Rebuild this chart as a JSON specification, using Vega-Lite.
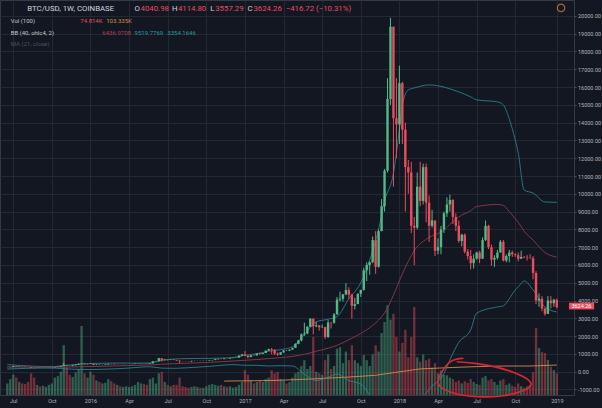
{
"$schema":"https://vega.github.io/schema/vega-lite/v6.json",
"width":574,"height":395,
"autosize":{"type":"none"},
"padding":{"left":0,"top":0,"right":28,"bottom":13},
"background":"#131722",
"config":{
 "view":{"stroke":"#363a45","fill":"#131722"},
 "axis":{"labelFont":"Roboto","labelFontSize":5.5,"labelColor":"#b2b5be","gridColor":"#242833","gridWidth":1,"domainColor":"#363a45","tickColor":"#4a4e59","labelOverlap":false,"labelBound":false},
 "text":{"font":"Roboto"}
},
"datasets":{
"candles":[
{"t":"2015-06-22","o":244,"h":251,"l":241,"c":249,"v":40},
{"t":"2015-06-29","o":249,"h":263,"l":248,"c":259,"v":55},
{"t":"2015-07-06","o":259,"h":312,"l":258,"c":306,"v":70},
{"t":"2015-07-13","o":306,"h":318,"l":272,"c":276,"v":60},
{"t":"2015-07-20","o":276,"h":293,"l":271,"c":292,"v":45},
{"t":"2015-07-27","o":292,"h":298,"l":278,"c":282,"v":40},
{"t":"2015-08-03","o":282,"h":285,"l":258,"c":264,"v":38},
{"t":"2015-08-10","o":264,"h":272,"l":258,"c":262,"v":45},
{"t":"2015-08-17","o":262,"h":263,"l":215,"c":232,"v":75},
{"t":"2015-08-24","o":232,"h":234,"l":196,"c":229,"v":60},
{"t":"2015-08-31","o":229,"h":243,"l":225,"c":240,"v":35},
{"t":"2015-09-07","o":240,"h":245,"l":226,"c":231,"v":30},
{"t":"2015-09-14","o":231,"h":234,"l":224,"c":232,"v":32},
{"t":"2015-09-21","o":232,"h":237,"l":226,"c":234,"v":28},
{"t":"2015-09-28","o":234,"h":242,"l":234,"c":240,"v":35},
{"t":"2015-10-05","o":240,"h":248,"l":238,"c":246,"v":40},
{"t":"2015-10-12","o":246,"h":270,"l":245,"c":265,"v":60},
{"t":"2015-10-19","o":265,"h":285,"l":262,"c":284,"v":65},
{"t":"2015-10-26","o":284,"h":335,"l":282,"c":325,"v":80},
{"t":"2015-11-02","o":325,"h":495,"l":320,"c":372,"v":172},
{"t":"2015-11-09","o":372,"h":385,"l":305,"c":333,"v":95},
{"t":"2015-11-16","o":333,"h":340,"l":313,"c":323,"v":70},
{"t":"2015-11-23","o":323,"h":365,"l":313,"c":360,"v":62},
{"t":"2015-11-30","o":360,"h":420,"l":355,"c":395,"v":78},
{"t":"2015-12-07","o":395,"h":470,"l":390,"c":440,"v":90},
{"t":"2015-12-14","o":440,"h":465,"l":430,"c":462,"v":238},
{"t":"2015-12-21","o":462,"h":465,"l":415,"c":422,"v":75},
{"t":"2015-12-28","o":422,"h":438,"l":415,"c":432,"v":60},
{"t":"2016-01-04","o":432,"h":460,"l":427,"c":448,"v":80},
{"t":"2016-01-11","o":448,"h":450,"l":365,"c":385,"v":70},
{"t":"2016-01-18","o":385,"h":425,"l":370,"c":400,"v":50},
{"t":"2016-01-25","o":400,"h":400,"l":370,"c":378,"v":45},
{"t":"2016-02-01","o":378,"h":390,"l":365,"c":382,"v":40},
{"t":"2016-02-08","o":382,"h":407,"l":370,"c":405,"v":42},
{"t":"2016-02-15","o":405,"h":445,"l":400,"c":438,"v":55},
{"t":"2016-02-22","o":438,"h":440,"l":405,"c":435,"v":48},
{"t":"2016-02-29","o":435,"h":440,"l":410,"c":412,"v":40},
{"t":"2016-03-07","o":412,"h":420,"l":402,"c":413,"v":35},
{"t":"2016-03-14","o":413,"h":420,"l":405,"c":410,"v":30},
{"t":"2016-03-21","o":410,"h":420,"l":405,"c":418,"v":28},
{"t":"2016-03-28","o":418,"h":422,"l":412,"c":420,"v":30},
{"t":"2016-04-04","o":420,"h":425,"l":417,"c":422,"v":28},
{"t":"2016-04-11","o":422,"h":432,"l":420,"c":430,"v":30},
{"t":"2016-04-18","o":430,"h":455,"l":428,"c":450,"v":35},
{"t":"2016-04-25","o":450,"h":465,"l":440,"c":452,"v":45},
{"t":"2016-05-02","o":452,"h":465,"l":440,"c":460,"v":40},
{"t":"2016-05-09","o":460,"h":462,"l":445,"c":455,"v":38},
{"t":"2016-05-16","o":455,"h":458,"l":436,"c":442,"v":35},
{"t":"2016-05-23","o":442,"h":475,"l":440,"c":470,"v":55},
{"t":"2016-05-30","o":470,"h":590,"l":470,"c":580,"v":60},
{"t":"2016-06-06","o":580,"h":590,"l":560,"c":585,"v":40},
{"t":"2016-06-13","o":585,"h":780,"l":585,"c":760,"v":75},
{"t":"2016-06-20","o":760,"h":765,"l":560,"c":660,"v":80},
{"t":"2016-06-27","o":660,"h":700,"l":620,"c":680,"v":45},
{"t":"2016-07-04","o":680,"h":690,"l":615,"c":665,"v":35},
{"t":"2016-07-11","o":665,"h":685,"l":650,"c":680,"v":30},
{"t":"2016-07-18","o":680,"h":690,"l":650,"c":660,"v":35},
{"t":"2016-07-25","o":660,"h":665,"l":620,"c":625,"v":35},
{"t":"2016-08-01","o":625,"h":630,"l":480,"c":590,"v":60},
{"t":"2016-08-08","o":590,"h":600,"l":580,"c":585,"v":30},
{"t":"2016-08-15","o":585,"h":590,"l":570,"c":581,"v":28},
{"t":"2016-08-22","o":581,"h":590,"l":570,"c":575,"v":25},
{"t":"2016-08-29","o":575,"h":610,"l":570,"c":608,"v":28},
{"t":"2016-09-05","o":608,"h":630,"l":605,"c":608,"v":30},
{"t":"2016-09-12","o":608,"h":612,"l":600,"c":610,"v":28},
{"t":"2016-09-19","o":610,"h":612,"l":595,"c":603,"v":25},
{"t":"2016-09-26","o":603,"h":615,"l":600,"c":612,"v":25},
{"t":"2016-10-03","o":612,"h":620,"l":607,"c":618,"v":30},
{"t":"2016-10-10","o":618,"h":645,"l":615,"c":642,"v":35},
{"t":"2016-10-17","o":642,"h":660,"l":630,"c":655,"v":38},
{"t":"2016-10-24","o":655,"h":720,"l":650,"c":700,"v":35},
{"t":"2016-10-31","o":700,"h":740,"l":680,"c":710,"v":32},
{"t":"2016-11-07","o":710,"h":745,"l":700,"c":705,"v":35},
{"t":"2016-11-14","o":705,"h":760,"l":700,"c":738,"v":30},
{"t":"2016-11-21","o":738,"h":750,"l":730,"c":735,"v":28},
{"t":"2016-11-28","o":735,"h":775,"l":730,"c":768,"v":30},
{"t":"2016-12-05","o":768,"h":780,"l":755,"c":778,"v":25},
{"t":"2016-12-12","o":778,"h":800,"l":770,"c":790,"v":28},
{"t":"2016-12-19","o":790,"h":935,"l":788,"c":900,"v":35},
{"t":"2016-12-26","o":900,"h":1000,"l":890,"c":970,"v":45},
{"t":"2017-01-02","o":970,"h":1160,"l":880,"c":905,"v":86},
{"t":"2017-01-09","o":905,"h":910,"l":750,"c":820,"v":70},
{"t":"2017-01-16","o":820,"h":930,"l":815,"c":922,"v":50},
{"t":"2017-01-23","o":922,"h":925,"l":880,"c":915,"v":40},
{"t":"2017-01-30","o":915,"h":1030,"l":910,"c":1020,"v":45},
{"t":"2017-02-06","o":1020,"h":1070,"l":940,"c":995,"v":50},
{"t":"2017-02-13","o":995,"h":1060,"l":990,"c":1050,"v":45},
{"t":"2017-02-20","o":1050,"h":1200,"l":1045,"c":1180,"v":55},
{"t":"2017-02-27","o":1180,"h":1290,"l":1170,"c":1270,"v":60},
{"t":"2017-03-06","o":1270,"h":1330,"l":980,"c":1230,"v":85},
{"t":"2017-03-13","o":1230,"h":1260,"l":940,"c":1020,"v":75},
{"t":"2017-03-20","o":1020,"h":1080,"l":890,"c":960,"v":80},
{"t":"2017-03-27","o":960,"h":1100,"l":940,"c":1090,"v":55},
{"t":"2017-04-03","o":1090,"h":1210,"l":1060,"c":1190,"v":50},
{"t":"2017-04-10","o":1190,"h":1220,"l":1160,"c":1180,"v":40},
{"t":"2017-04-17","o":1180,"h":1240,"l":1175,"c":1240,"v":45},
{"t":"2017-04-24","o":1240,"h":1350,"l":1230,"c":1340,"v":60},
{"t":"2017-05-01","o":1340,"h":1600,"l":1330,"c":1560,"v":75},
{"t":"2017-05-08","o":1560,"h":1780,"l":1540,"c":1760,"v":80},
{"t":"2017-05-15","o":1760,"h":2150,"l":1700,"c":2100,"v":100},
{"t":"2017-05-22","o":2100,"h":2760,"l":2000,"c":2150,"v":120},
{"t":"2017-05-29","o":2150,"h":2560,"l":2100,"c":2520,"v":90},
{"t":"2017-06-05","o":2520,"h":3000,"l":2500,"c":2980,"v":100},
{"t":"2017-06-12","o":2980,"h":2980,"l":2100,"c":2550,"v":200},
{"t":"2017-06-19","o":2550,"h":2800,"l":2500,"c":2600,"v":80},
{"t":"2017-06-26","o":2600,"h":2620,"l":2300,"c":2500,"v":75},
{"t":"2017-07-03","o":2500,"h":2650,"l":2450,"c":2510,"v":70},
{"t":"2017-07-10","o":2510,"h":2520,"l":1840,"c":1950,"v":120},
{"t":"2017-07-17","o":1950,"h":2900,"l":1900,"c":2760,"v":140},
{"t":"2017-07-24","o":2760,"h":2800,"l":2430,"c":2750,"v":90},
{"t":"2017-07-31","o":2750,"h":3300,"l":2700,"c":3220,"v":100},
{"t":"2017-08-07","o":3220,"h":4200,"l":3220,"c":4050,"v":160},
{"t":"2017-08-14","o":4050,"h":4500,"l":3950,"c":4100,"v":165},
{"t":"2017-08-21","o":4100,"h":4350,"l":3950,"c":4350,"v":110},
{"t":"2017-08-28","o":4350,"h":4980,"l":4300,"c":4590,"v":150},
{"t":"2017-09-04","o":4590,"h":4750,"l":4100,"c":4330,"v":120},
{"t":"2017-09-11","o":4330,"h":4380,"l":2980,"c":3700,"v":172},
{"t":"2017-09-18","o":3700,"h":4150,"l":3500,"c":3800,"v":120},
{"t":"2017-09-25","o":3800,"h":4400,"l":3800,"c":4380,"v":110},
{"t":"2017-10-02","o":4380,"h":4600,"l":4200,"c":4600,"v":100},
{"t":"2017-10-09","o":4600,"h":5850,"l":4550,"c":5700,"v":138},
{"t":"2017-10-16","o":5700,"h":6150,"l":5100,"c":6000,"v":120},
{"t":"2017-10-23","o":6000,"h":6200,"l":5450,"c":6150,"v":100},
{"t":"2017-10-30","o":6150,"h":7600,"l":6100,"c":7400,"v":140},
{"t":"2017-11-06","o":7400,"h":7900,"l":5500,"c":5900,"v":172},
{"t":"2017-11-13","o":5900,"h":8000,"l":5850,"c":7900,"v":150},
{"t":"2017-11-20","o":7900,"h":9700,"l":7900,"c":9300,"v":214},
{"t":"2017-11-27","o":9300,"h":11400,"l":9000,"c":11300,"v":252},
{"t":"2017-12-04","o":11300,"h":16500,"l":11200,"c":15330,"v":310},
{"t":"2017-12-11","o":15330,"h":19891,"l":15000,"c":19390,"v":260},
{"t":"2017-12-18","o":19390,"h":19400,"l":10400,"c":14250,"v":280},
{"t":"2017-12-25","o":14250,"h":16500,"l":12000,"c":13900,"v":200},
{"t":"2018-01-01","o":13900,"h":17200,"l":12800,"c":16220,"v":150},
{"t":"2018-01-08","o":16220,"h":16300,"l":12800,"c":13600,"v":180},
{"t":"2018-01-15","o":13600,"h":14000,"l":9000,"c":11500,"v":225},
{"t":"2018-01-22","o":11500,"h":11900,"l":10000,"c":11200,"v":130},
{"t":"2018-01-29","o":11200,"h":11800,"l":7800,"c":8200,"v":200},
{"t":"2018-02-05","o":8200,"h":8700,"l":6000,"c":8100,"v":304},
{"t":"2018-02-12","o":8100,"h":11200,"l":8000,"c":10400,"v":130},
{"t":"2018-02-19","o":10400,"h":11800,"l":9300,"c":9600,"v":115},
{"t":"2018-02-26","o":9600,"h":11700,"l":9400,"c":11500,"v":140},
{"t":"2018-03-05","o":11500,"h":11700,"l":8400,"c":9500,"v":120},
{"t":"2018-03-12","o":9500,"h":9900,"l":7300,"c":8200,"v":125},
{"t":"2018-03-19","o":8200,"h":9100,"l":8100,"c":8500,"v":95},
{"t":"2018-03-26","o":8500,"h":8500,"l":6500,"c":6800,"v":110},
{"t":"2018-04-02","o":6800,"h":7500,"l":6600,"c":7000,"v":75},
{"t":"2018-04-09","o":7000,"h":8200,"l":6600,"c":8000,"v":85},
{"t":"2018-04-16","o":8000,"h":9000,"l":7800,"c":8900,"v":70},
{"t":"2018-04-23","o":8900,"h":9800,"l":8700,"c":9400,"v":68},
{"t":"2018-04-30","o":9400,"h":9950,"l":9000,"c":9650,"v":60},
{"t":"2018-05-07","o":9650,"h":9700,"l":8300,"c":8700,"v":55},
{"t":"2018-05-14","o":8700,"h":8900,"l":7900,"c":8200,"v":45},
{"t":"2018-05-21","o":8200,"h":8500,"l":7250,"c":7350,"v":50},
{"t":"2018-05-28","o":7350,"h":7750,"l":7050,"c":7700,"v":40},
{"t":"2018-06-04","o":7700,"h":7770,"l":6650,"c":6750,"v":48},
{"t":"2018-06-11","o":6750,"h":6900,"l":6300,"c":6500,"v":42},
{"t":"2018-06-18","o":6500,"h":6850,"l":5750,"c":6100,"v":55},
{"t":"2018-06-25","o":6100,"h":6600,"l":5800,"c":6350,"v":45},
{"t":"2018-07-02","o":6350,"h":6750,"l":6300,"c":6700,"v":38},
{"t":"2018-07-09","o":6700,"h":6800,"l":6100,"c":6350,"v":35},
{"t":"2018-07-16","o":6350,"h":7550,"l":6350,"c":7400,"v":60},
{"t":"2018-07-23","o":7400,"h":8500,"l":7350,"c":8200,"v":65},
{"t":"2018-07-30","o":8200,"h":8250,"l":6900,"c":7000,"v":50},
{"t":"2018-08-06","o":7000,"h":7150,"l":5950,"c":6300,"v":55},
{"t":"2018-08-13","o":6300,"h":6550,"l":5900,"c":6400,"v":45},
{"t":"2018-08-20","o":6400,"h":6850,"l":6300,"c":6700,"v":35},
{"t":"2018-08-27","o":6700,"h":7400,"l":6700,"c":7300,"v":50},
{"t":"2018-09-03","o":7300,"h":7400,"l":6200,"c":6250,"v":55},
{"t":"2018-09-10","o":6250,"h":6600,"l":6150,"c":6500,"v":35},
{"t":"2018-09-17","o":6500,"h":6850,"l":6150,"c":6700,"v":40},
{"t":"2018-09-24","o":6700,"h":6800,"l":6450,"c":6600,"v":32},
{"t":"2018-10-01","o":6600,"h":6650,"l":6450,"c":6550,"v":28},
{"t":"2018-10-08","o":6550,"h":6700,"l":6200,"c":6350,"v":40},
{"t":"2018-10-15","o":6350,"h":6800,"l":6350,"c":6450,"v":30},
{"t":"2018-10-22","o":6450,"h":6500,"l":6400,"c":6420,"v":25},
{"t":"2018-10-29","o":6420,"h":6550,"l":6250,"c":6400,"v":30},
{"t":"2018-11-05","o":6400,"h":6600,"l":6350,"c":6380,"v":35},
{"t":"2018-11-12","o":6380,"h":6500,"l":5200,"c":5550,"v":79},
{"t":"2018-11-19","o":5550,"h":5650,"l":3800,"c":4000,"v":231},
{"t":"2018-11-26","o":4000,"h":4400,"l":3650,"c":4100,"v":162},
{"t":"2018-12-03","o":4100,"h":4250,"l":3400,"c":3550,"v":148},
{"t":"2018-12-10","o":3550,"h":3600,"l":3150,"c":3250,"v":145},
{"t":"2018-12-17","o":3250,"h":4250,"l":3250,"c":4000,"v":121},
{"t":"2018-12-24","o":4000,"h":4250,"l":3550,"c":3850,"v":97},
{"t":"2018-12-31","o":3850,"h":4100,"l":3650,"c":4040.98,"v":86},
{"t":"2019-01-07","o":4040.98,"h":4114.8,"l":3557.29,"c":3624.26,"v":74.814}
],
"vma":[
{"t":"2016-11-14","v":48},{"t":"2017-01-09","v":49},{"t":"2017-03-06","v":50},{"t":"2017-06-05","v":55},{"t":"2017-09-04","v":62},{"t":"2017-11-06","v":68},{"t":"2018-01-01","v":80},{"t":"2018-02-19","v":90},{"t":"2018-05-07","v":95},{"t":"2018-07-02","v":98},{"t":"2018-09-03","v":100},{"t":"2018-11-05","v":100},{"t":"2019-01-07","v":103.335}
],
"bb":[
{"t":"2015-06-22","mid":275,"up":400,"lo":150},
{"t":"2015-07-20","mid":262,"up":350,"lo":175},
{"t":"2015-08-17","mid":255,"up":315,"lo":195},
{"t":"2015-09-14","mid":248,"up":290,"lo":205},
{"t":"2015-10-12","mid":246,"up":290,"lo":200},
{"t":"2015-11-09","mid":258,"up":360,"lo":155},
{"t":"2015-12-07","mid":275,"up":420,"lo":130},
{"t":"2016-01-04","mid":290,"up":460,"lo":120},
{"t":"2016-02-01","mid":305,"up":475,"lo":135},
{"t":"2016-02-29","mid":322,"up":485,"lo":160},
{"t":"2016-03-28","mid":340,"up":485,"lo":195},
{"t":"2016-04-25","mid":362,"up":480,"lo":245},
{"t":"2016-05-23","mid":385,"up":490,"lo":280},
{"t":"2016-06-20","mid":420,"up":640,"lo":200},
{"t":"2016-07-18","mid":450,"up":710,"lo":190},
{"t":"2016-08-15","mid":475,"up":735,"lo":215},
{"t":"2016-09-12","mid":500,"up":745,"lo":255},
{"t":"2016-10-10","mid":525,"up":750,"lo":300},
{"t":"2016-11-07","mid":560,"up":765,"lo":355},
{"t":"2016-12-05","mid":600,"up":800,"lo":400},
{"t":"2017-01-02","mid":640,"up":920,"lo":360},
{"t":"2017-01-30","mid":685,"up":1010,"lo":360},
{"t":"2017-02-27","mid":735,"up":1150,"lo":320},
{"t":"2017-03-27","mid":790,"up":1240,"lo":340},
{"t":"2017-04-24","mid":860,"up":1400,"lo":320},
{"t":"2017-05-22","mid":980,"up":2100,"lo":-140},
{"t":"2017-06-19","mid":1150,"up":2800,"lo":-500},
{"t":"2017-07-17","mid":1320,"up":2950,"lo":-310},
{"t":"2017-08-07","mid":1480,"up":3100,"lo":-140},
{"t":"2017-09-04","mid":1800,"up":4100,"lo":-500},
{"t":"2017-10-02","mid":2150,"up":5000,"lo":-700},
{"t":"2017-10-30","mid":2600,"up":6800,"lo":-1600},
{"t":"2017-11-13","mid":2900,"up":8000,"lo":-2200},
{"t":"2017-11-27","mid":3300,"up":9600,"lo":-3000},
{"t":"2017-12-18","mid":4300,"up":11150,"lo":-2550},
{"t":"2018-01-01","mid":5100,"up":13600,"lo":-3400},
{"t":"2018-01-08","mid":5500,"up":15000,"lo":-4000},
{"t":"2018-01-22","mid":6200,"up":15840,"lo":-3400},
{"t":"2018-02-05","mid":6800,"up":15950,"lo":-2350},
{"t":"2018-03-12","mid":7550,"up":16120,"lo":-1000},
{"t":"2018-04-16","mid":7950,"up":16000,"lo":-100},
{"t":"2018-04-30","mid":8280,"up":15900,"lo":660},
{"t":"2018-05-21","mid":8700,"up":15730,"lo":1650},
{"t":"2018-06-18","mid":9050,"up":15450,"lo":2350},
{"t":"2018-07-02","mid":9280,"up":15280,"lo":3290},
{"t":"2018-08-20","mid":9400,"up":15170,"lo":3640},
{"t":"2018-09-03","mid":9350,"up":15000,"lo":3700},
{"t":"2018-09-17","mid":9000,"up":14200,"lo":4100},
{"t":"2018-10-01","mid":8600,"up":13030,"lo":4600},
{"t":"2018-10-08","mid":8400,"up":12300,"lo":4760},
{"t":"2018-10-22","mid":7900,"up":10210,"lo":5100},
{"t":"2018-11-12","mid":7400,"up":10040,"lo":4600},
{"t":"2018-12-10","mid":6700,"up":9540,"lo":3640},
{"t":"2019-01-07","mid":6437,"up":9520,"lo":3354}
],
"loop":[
{"k":0,"t":"2018-06-01","p":753},
{"k":1,"t":"2018-05-05","p":714},
{"k":2,"t":"2018-04-15","p":191},
{"k":3,"t":"2018-03-31","p":-467},
{"k":4,"t":"2018-04-03","p":-877},
{"k":5,"t":"2018-05-09","p":-1254},
{"k":6,"t":"2018-07-02","p":-1439},
{"k":7,"t":"2018-09-01","p":-1406},
{"k":8,"t":"2018-10-18","p":-1125},
{"k":9,"t":"2018-11-10","p":-804},
{"k":10,"t":"2018-11-06","p":-467},
{"k":11,"t":"2018-10-02","p":-56},
{"k":12,"t":"2018-08-17","p":281},
{"k":13,"t":"2018-07-02","p":472},
{"k":14,"t":"2018-05-16","p":562}
],
"tag":[
{"t":"2019-02-04T17:00:00Z","t2":"2019-04-05","tc":"2019-03-06","p":3880,"p2":3500,"pc":3690,"s":"3624.26"}
],
"icon":[
{"t":"2019-01-17","p":20450}
],
"labels":[
{"t":"2015-08-08","p":20393,"s":"BTC/USD, 1W, COINBASE","k":"title","r":1},
{"t":"2016-04-17","p":20393,"s":"O","k":"title","r":1},
{"t":"2016-05-01","p":20393,"s":"4040.98","k":"down","r":1},
{"t":"2016-07-14","p":20393,"s":"H","k":"title","r":1},
{"t":"2016-07-28","p":20393,"s":"4114.80","k":"down","r":1},
{"t":"2016-10-12","p":20393,"s":"L","k":"title","r":1},
{"t":"2016-10-24","p":20393,"s":"3557.29","k":"down","r":1},
{"t":"2017-01-08","p":20393,"s":"C","k":"title","r":1},
{"t":"2017-01-22","p":20393,"s":"3624.26","k":"down","r":1},
{"t":"2017-04-08","p":20393,"s":"−416.72 (−10.31%)","k":"down","r":1},
{"t":"2015-06-30","p":19736,"s":"Vol (100)","k":"name","r":2},
{"t":"2015-12-11","p":19736,"s":"74.814K","k":"down","r":2},
{"t":"2016-02-10","p":19736,"s":"103.335K","k":"volma","r":2},
{"t":"2015-06-30","p":19027,"s":"BB (40, ohlc4, 2)","k":"name","r":2},
{"t":"2016-02-01","p":19027,"s":"6436.9708","k":"basis","r":2},
{"t":"2016-04-17","p":19027,"s":"9519.7769","k":"band","r":2},
{"t":"2016-07-03","p":19027,"s":"3354.1646","k":"band","r":2},
{"t":"2015-06-30","p":18409,"s":"MA (21, close)","k":"dim","r":2}
]
},
"layer":[
{
 "data":{"name":"candles"},
 "layer":[
  {
   "mark":{"type":"bar","size":2.3,"opacity":0.45,"orient":"vertical"},
   "encoding":{
    "x":{"field":"t","type":"temporal","title":null,"scale":{"type":"utc","domain":[{"year":2015,"month":6,"date":16,"hours":13,"utc":true},{"year":2019,"month":2,"date":4,"hours":17,"utc":true}]},
     "axis":{"values":[{"year":2015,"month":7,"date":6,"utc":true},{"year":2015,"month":10,"date":5,"utc":true},{"year":2016,"month":1,"date":4,"utc":true},{"year":2016,"month":4,"date":4,"utc":true},{"year":2016,"month":7,"date":4,"utc":true},{"year":2016,"month":10,"date":3,"utc":true},{"year":2017,"month":1,"date":2,"utc":true},{"year":2017,"month":4,"date":3,"utc":true},{"year":2017,"month":7,"date":3,"utc":true},{"year":2017,"month":10,"date":2,"utc":true},{"year":2018,"month":1,"date":1,"utc":true},{"year":2018,"month":4,"date":2,"utc":true},{"year":2018,"month":7,"date":2,"utc":true},{"year":2018,"month":10,"date":1,"utc":true},{"year":2019,"month":1,"date":7,"utc":true}],
      "labelExpr":"utcFormat(datum.value, '%m') == '01' ? utcFormat(datum.value, '%Y') : utcFormat(datum.value, '%b')",
      "grid":true,"ticks":false,"domain":false,"labelPadding":3.5,"labelOverlap":false,"labelFlush":false}},
    "y":{"field":"v","type":"quantitative","title":null,"scale":{"domain":[0,1363],"nice":false,"zero":true},"axis":null},
    "color":{"condition":{"test":"datum.c >= datum.o","value":"#53b987"},"value":"#eb4d5c"}
   }
  },
  {
   "data":{"name":"vma"},
   "mark":{"type":"line","color":"#d68a45","strokeWidth":1,"opacity":0.9},
   "encoding":{
    "x":{"field":"t","type":"temporal","title":null},
    "y":{"field":"v","type":"quantitative","title":null,"axis":null}
   }
  }
 ]
},
{
 "layer":[
  {
   "data":{"name":"bb"},
   "mark":{"type":"line","color":"#2a8c99","strokeWidth":1,"opacity":0.8,"clip":true,"interpolate":"monotone"},
   "encoding":{
    "x":{"field":"t","type":"temporal","title":null},
    "y":{"field":"up","type":"quantitative","title":null,"scale":{"domain":[-1310,20894],"nice":false,"zero":false},
     "axis":{"orient":"right","values":[-1000,0,1000,2000,3000,4000,5000,6000,7000,8000,9000,10000,11000,12000,13000,14000,15000,16000,17000,18000,19000,20000],"labelExpr":"replace(replace(format(datum.value, '.2f'), '−', '-'), ',', '')","grid":true,"ticks":true,"tickSize":2,"domain":false,"labelPadding":1.5,"labelOverlap":false,"labelBound":false}}
   }
  },
  {
   "data":{"name":"bb"},
   "mark":{"type":"line","color":"#2a8c99","strokeWidth":1,"opacity":0.8,"clip":true,"interpolate":"monotone"},
   "encoding":{
    "x":{"field":"t","type":"temporal","title":null},
    "y":{"field":"lo","type":"quantitative","title":null,"axis":{"orient":"right","values":[-1000,0,1000,2000,3000,4000,5000,6000,7000,8000,9000,10000,11000,12000,13000,14000,15000,16000,17000,18000,19000,20000],"labelExpr":"replace(replace(format(datum.value, '.2f'), '−', '-'), ',', '')","grid":true,"ticks":true,"tickSize":2,"domain":false,"labelPadding":1.5,"labelOverlap":false,"labelBound":false}}
   }
  },
  {
   "data":{"name":"bb"},
   "mark":{"type":"line","color":"#8c3a47","strokeWidth":1,"opacity":0.9,"clip":true,"interpolate":"monotone"},
   "encoding":{
    "x":{"field":"t","type":"temporal","title":null},
    "y":{"field":"mid","type":"quantitative","title":null,"axis":{"orient":"right","values":[-1000,0,1000,2000,3000,4000,5000,6000,7000,8000,9000,10000,11000,12000,13000,14000,15000,16000,17000,18000,19000,20000],"labelExpr":"replace(replace(format(datum.value, '.2f'), '−', '-'), ',', '')","grid":true,"ticks":true,"tickSize":2,"domain":false,"labelPadding":1.5,"labelOverlap":false,"labelBound":false}}
   }
  },
  {
   "mark":{"type":"rule","color":"#eb4d5c","strokeWidth":1,"opacity":0.65},
   "encoding":{"y":{"datum":3624.26,"type":"quantitative","title":null,"axis":{"orient":"right","values":[-1000,0,1000,2000,3000,4000,5000,6000,7000,8000,9000,10000,11000,12000,13000,14000,15000,16000,17000,18000,19000,20000],"labelExpr":"replace(replace(format(datum.value, '.2f'), '−', '-'), ',', '')","grid":true,"ticks":true,"tickSize":2,"domain":false,"labelPadding":1.5,"labelOverlap":false,"labelBound":false}}}
  },
  {
   "data":{"name":"candles"},
   "mark":{"type":"rule","strokeWidth":1},
   "encoding":{
    "x":{"field":"t","type":"temporal","title":null},
    "y":{"field":"l","type":"quantitative","title":null,"axis":{"orient":"right","values":[-1000,0,1000,2000,3000,4000,5000,6000,7000,8000,9000,10000,11000,12000,13000,14000,15000,16000,17000,18000,19000,20000],"labelExpr":"replace(replace(format(datum.value, '.2f'), '−', '-'), ',', '')","grid":true,"ticks":true,"tickSize":2,"domain":false,"labelPadding":1.5,"labelOverlap":false,"labelBound":false}},
    "y2":{"field":"h"},
    "color":{"condition":{"test":"datum.c >= datum.o","value":"#53b987"},"value":"#eb4d5c"}
   }
  },
  {
   "data":{"name":"candles"},
   "mark":{"type":"bar","size":2.4,"orient":"vertical"},
   "encoding":{
    "x":{"field":"t","type":"temporal","title":null},
    "y":{"field":"o","type":"quantitative","title":null,"axis":{"orient":"right","values":[-1000,0,1000,2000,3000,4000,5000,6000,7000,8000,9000,10000,11000,12000,13000,14000,15000,16000,17000,18000,19000,20000],"labelExpr":"replace(replace(format(datum.value, '.2f'), '−', '-'), ',', '')","grid":true,"ticks":true,"tickSize":2,"domain":false,"labelPadding":1.5,"labelOverlap":false,"labelBound":false}},
    "y2":{"field":"c"},
    "color":{"condition":{"test":"datum.c >= datum.o","value":"#53b987"},"value":"#eb4d5c"}
   }
  },
  {
   "data":{"name":"loop"},
   "mark":{"type":"line","color":"#d9262f","strokeWidth":1.6,"interpolate":"basis","clip":false},
   "encoding":{
    "x":{"field":"t","type":"temporal","title":null},
    "y":{"field":"p","type":"quantitative","title":null,"axis":{"orient":"right","values":[-1000,0,1000,2000,3000,4000,5000,6000,7000,8000,9000,10000,11000,12000,13000,14000,15000,16000,17000,18000,19000,20000],"labelExpr":"replace(replace(format(datum.value, '.2f'), '−', '-'), ',', '')","grid":true,"ticks":true,"tickSize":2,"domain":false,"labelPadding":1.5,"labelOverlap":false,"labelBound":false}},
    "order":{"field":"k","type":"quantitative"}
   }
  },
  {
   "data":{"name":"labels"},
   "mark":{"type":"text","align":"left","baseline":"middle","clip":false},
   "encoding":{
    "x":{"field":"t","type":"temporal","title":null},
    "y":{"field":"p","type":"quantitative","title":null,"axis":{"orient":"right","values":[-1000,0,1000,2000,3000,4000,5000,6000,7000,8000,9000,10000,11000,12000,13000,14000,15000,16000,17000,18000,19000,20000],"labelExpr":"replace(replace(format(datum.value, '.2f'), '−', '-'), ',', '')","grid":true,"ticks":true,"tickSize":2,"domain":false,"labelPadding":1.5,"labelOverlap":false,"labelBound":false}},
    "text":{"field":"s"},
    "size":{"field":"r","type":"ordinal","legend":null,"scale":{"domain":[1,2],"range":[7.8,6]}},
    "color":{"field":"k","type":"nominal","legend":null,
      "scale":{"domain":["title","down","name","volma","basis","band","dim"],"range":["#d1d4dc","#eb4d5c","#c3c6ce","#d68a45","#a8434f","#2a9aa6","#50535e"]}}
   }
  },
  {
   "data":{"name":"tag"},
   "mark":{"type":"rect","color":"#eb4d5c","clip":false},
   "encoding":{
    "x":{"field":"t","type":"temporal","title":null},
    "x2":{"field":"t2"},
    "y":{"field":"p","type":"quantitative","title":null,"axis":{"orient":"right","values":[-1000,0,1000,2000,3000,4000,5000,6000,7000,8000,9000,10000,11000,12000,13000,14000,15000,16000,17000,18000,19000,20000],"labelExpr":"replace(replace(format(datum.value, '.2f'), '−', '-'), ',', '')","grid":true,"ticks":true,"tickSize":2,"domain":false,"labelPadding":1.5,"labelOverlap":false,"labelBound":false}},
    "y2":{"field":"p2"}
   }
  },
  {
   "data":{"name":"tag"},
   "mark":{"type":"text","color":"#ffffff","fontSize":5.5,"align":"center","baseline":"middle","clip":false},
   "encoding":{
    "x":{"field":"tc","type":"temporal","title":null},
    "y":{"field":"pc","type":"quantitative","title":null,"axis":{"orient":"right","values":[-1000,0,1000,2000,3000,4000,5000,6000,7000,8000,9000,10000,11000,12000,13000,14000,15000,16000,17000,18000,19000,20000],"labelExpr":"replace(replace(format(datum.value, '.2f'), '−', '-'), ',', '')","grid":true,"ticks":true,"tickSize":2,"domain":false,"labelPadding":1.5,"labelOverlap":false,"labelBound":false}},
    "text":{"field":"s"}
   }
  },
  {
   "data":{"name":"icon"},
   "mark":{"type":"point","shape":"circle","size":55,"filled":false,"color":"#e08a2e","strokeWidth":1.2,"clip":false},
   "encoding":{
    "x":{"field":"t","type":"temporal","title":null},
    "y":{"field":"p","type":"quantitative","title":null,"axis":{"orient":"right","values":[-1000,0,1000,2000,3000,4000,5000,6000,7000,8000,9000,10000,11000,12000,13000,14000,15000,16000,17000,18000,19000,20000],"labelExpr":"replace(replace(format(datum.value, '.2f'), '−', '-'), ',', '')","grid":true,"ticks":true,"tickSize":2,"domain":false,"labelPadding":1.5,"labelOverlap":false,"labelBound":false}}
   }
  }
 ]
}
],
"resolve":{"scale":{"y":"independent"}}
}
